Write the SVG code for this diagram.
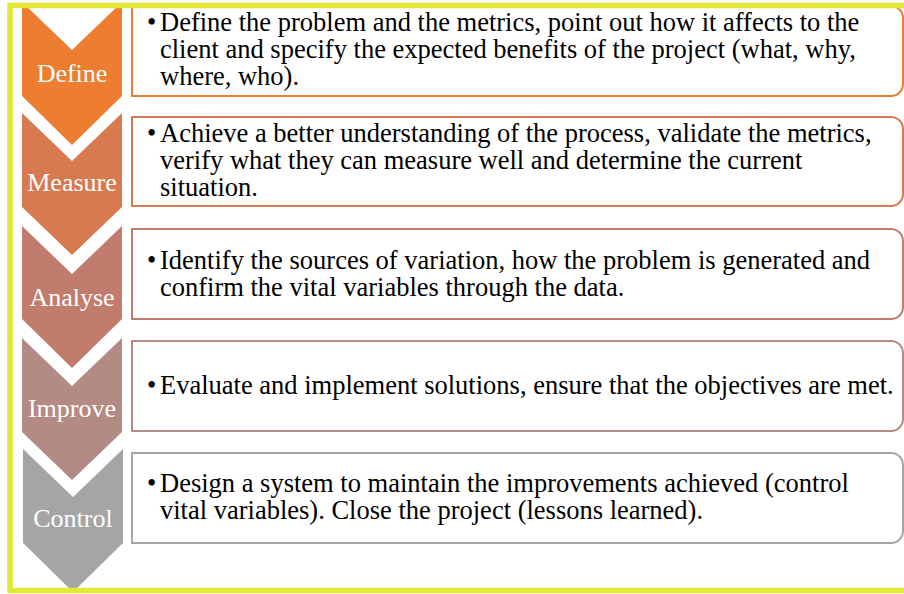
<svg xmlns="http://www.w3.org/2000/svg" width="904" height="594" viewBox="0 0 904 594">
<style>
.lbl{font-family:"Liberation Serif","Times New Roman",serif;font-size:26px;fill:#fff;text-anchor:middle}
.txt{font-family:"Liberation Serif","Times New Roman",serif;font-size:26.5px;fill:#000}
.box{fill:#fff;stroke-width:2}
</style>
<rect width="904" height="594" fill="#fff"/>
<g id="define">
<path d="M22,2 L72,50 L122,2 V96 L72,145 L22,96 Z" fill="#ED7D31"/>
<text class="lbl" x="72" y="82">Define</text>
<path class="box" stroke="#ED7D31" d="M132,6 H891 A12 12 0 0 1 903,18 V84 A12 12 0 0 1 891,96 H132 Z"/>
<text class="txt" x="147" y="31">•</text>
<text class="txt"><tspan x="160" y="31">Define the problem and the metrics, point out how it affects to the</tspan><tspan x="160" y="58">client and specify the expected benefits of the project (what, why,</tspan><tspan x="160" y="85">where, who).</tspan></text>
</g>
<g id="measure">
<path d="M22,113 L72,161 L122,113 V207 L72,255 L22,207 Z" fill="#D87A50"/>
<text class="lbl" x="72" y="191">Measure</text>
<path class="box" stroke="#D87A50" d="M132,117 H891 A12 12 0 0 1 903,129 V194 A12 12 0 0 1 891,206 H132 Z"/>
<text class="txt" x="147" y="142">•</text>
<text class="txt"><tspan x="160" y="142">Achieve a better understanding of the process, validate the metrics,</tspan><tspan x="160" y="169">verify what they can measure well and determine the current</tspan><tspan x="160" y="196">situation.</tspan></text>
</g>
<g id="analyse">
<path d="M22,226 L72,274 L122,226 V319 L72,368 L22,319 Z" fill="#C27C6E"/>
<text class="lbl" x="72" y="306">Analyse</text>
<path class="box" stroke="#C27C6E" d="M132,229 H891 A12 12 0 0 1 903,241 V307 A12 12 0 0 1 891,319 H132 Z"/>
<text class="txt" x="147" y="269">•</text>
<text class="txt"><tspan x="160" y="269">Identify the sources of variation, how the problem is generated and</tspan><tspan x="160" y="296">confirm the vital variables through the data.</tspan></text>
</g>
<g id="improve">
<path d="M22,338 L72,386 L122,338 V432 L72,480 L22,432 Z" fill="#B38B84"/>
<text class="lbl" x="72" y="417">Improve</text>
<path class="box" stroke="#B38B84" d="M132,341 H891 A12 12 0 0 1 903,353 V419 A12 12 0 0 1 891,431 H132 Z"/>
<text class="txt" x="147" y="394">•</text>
<text class="txt" x="160" y="394">Evaluate and implement solutions, ensure that the objectives are met.</text>
</g>
<g id="control">
<path d="M23,449 L73,497 L123,449 V543 L73,592 L23,543 Z" fill="#A5A5A5"/>
<text class="lbl" x="73" y="527">Control</text>
<path class="box" stroke="#A5A5A5" d="M132,453 H891 A12 12 0 0 1 903,465 V531 A12 12 0 0 1 891,543 H132 Z"/>
<text class="txt" x="147" y="492">•</text>
<text class="txt"><tspan x="160" y="492">Design a system to maintain the improvements achieved (control</tspan><tspan x="160" y="519">vital variables). Close the project (lessons learned).</tspan></text>
</g>
<g id="connectors"></g>
<rect x="10" y="5.5" width="1000" height="585" fill="none" stroke="#E1E836" stroke-width="5.5"/>
</svg>
